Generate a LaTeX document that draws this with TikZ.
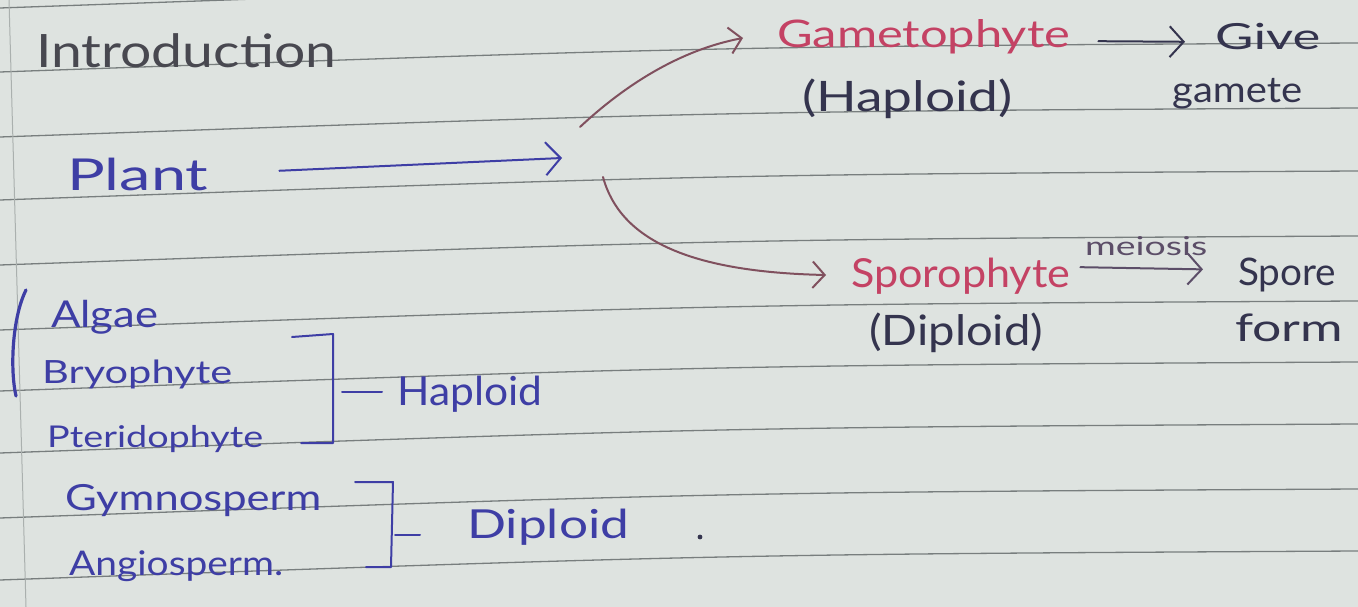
\documentclass[tikz,border=0pt]{standalone}
\usepackage{graphicx}
\usepackage{fontspec}
\setmainfont{Lato}
\usetikzlibrary{arrows.meta}

\definecolor{paper}{RGB}{222,227,224}
\definecolor{ruling}{RGB}{120,126,126}
\definecolor{margin}{RGB}{170,176,174}
\definecolor{pencil}{RGB}{72,72,80}
\definecolor{blueink}{RGB}{62,62,165}
\definecolor{redink}{RGB}{196,66,100}
\definecolor{darkink}{RGB}{52,52,78}
\definecolor{mixink}{RGB}{128,80,94}
\definecolor{meiink}{RGB}{92,78,104}

% word set at a given size (pt) and stretched to a given width (pt)
\newcommand{\fitw}[3]{\resizebox{#1pt}{\height}{\fontsize{#2pt}{#2pt}\selectfont #3}}

\begin{document}
\begin{tikzpicture}[x=1pt,y=-1pt,
  hand/.style={inner sep=0pt, anchor=base west},
  ink/.style={line width=2pt, line cap=round, line join=round},
  barb/.style={-{Straight Barb[length=#1pt, width=2.2*#1pt, line width=2pt]}},
  barb/.default=14]

% notebook page
\fill[paper] (0,0) rectangle (1358,607);
\useasboundingbox (0,0) rectangle (1358,607);
\foreach \L in {8,72,137,200,265,330,391,453,518,580}
  \draw[ruling, line width=1.3pt] (0,\L) .. controls (720,\L-25.5) .. (1358,\L-29);
\draw[margin, line width=1pt] (9,0) -- (26,607);

% title
\node[hand, text=pencil] (intro) at (36,68) {\fitw{300}{46}{Introduction}};

% plant and its two generations
\node[hand, text=blueink] (plant) at (67,190) {\fitw{141}{44}{Plant}};
\node[hand, text=redink]  (gam) at (777,48) {\fitw{293}{38}{Gametophyte}};
\node[hand, text=darkink] (gamhap) at (802,112) {\fitw{210}{42}{(Haploid)}};
\node[hand, text=darkink] (give) at (1215,50) {\fitw{105}{36}{Give}};
\node[hand, text=darkink] (gamete) at (1172,103) {\fitw{130}{36}{gamete}};
\node[hand, text=redink]  (spo) at (851,287) {\fitw{219}{40}{Sporophyte}};
\node[hand, text=meiink]  (mei) at (1085,255) {\fitw{122}{26}{meiosis}};
\node[hand, text=darkink] (spore) at (1238,285) {\fitw{98}{38}{Spore}};
\node[hand, text=darkink] (form) at (1235,341) {\fitw{108}{38}{form}};
\node[hand, text=darkink] (spodip) at (869,345) {\fitw{174}{42}{(Diploid)}};

\coordinate (fork) at (562,158);
\coordinate (forkup) at (580,127);
\coordinate (forkdown) at (603,177);
\path (gam.base west) ++(-34,-10) coordinate (gamtip);
\path (spo.base west) ++(-25,-12) coordinate (spotip);

\draw[ink, blueink, barb=15, shorten <=71pt] (plant.east) -- (fork);
\draw[ink, mixink, barb=12] (forkup) .. controls (625,85) and (680,50) .. (gamtip);
\draw[ink, mixink, barb=12] (forkdown) .. controls (620,240) and (690,272) .. (spotip);
\draw[ink, darkink, barb=14, shorten <=28pt, shorten >=30pt]
  ([yshift=7pt]gam.base east) -- ([yshift=8pt]give.base west);
\draw[ink, meiink, barb=14, shorten <=10pt, shorten >=35pt]
  ([yshift=20pt]spo.base east) -- ([yshift=15pt]spore.base west);

% plant groups
\node[hand, text=blueink] (algae) at (51,327) {\fitw{107}{37}{Algae}};
\node[hand, text=blueink] (bryo) at (42,383) {\fitw{190}{32}{Bryophyte}};
\node[hand, text=blueink] (pter) at (47,447) {\fitw{216}{30}{Pteridophyte}};
\node[hand, text=blueink] (gymno) at (65,510) {\fitw{256}{36}{Gymnosperm}};
\node[hand, text=blueink] (angio) at (69,575) {\fitw{214}{34}{Angiosperm.}};
\node[hand, text=blueink] (haploid) at (397,405) {\fitw{145}{40}{Haploid}};
\node[hand, text=blueink] (diploid) at (467,538) {\fitw{162}{40}{Diploid}};

\draw[blueink, line width=3.2pt, line cap=round] (26,290) .. controls (12,318) and (10,370) .. (16,396);

\draw[ink, blueink] (292,337) -- (333,334) -- (333,443) -- (301,443);
\coordinate (hapbrace) at (333,392);
\draw[ink, blueink, shorten <=9pt, shorten >=15pt] (hapbrace) -- (hapbrace -| haploid.west);

\draw[ink, blueink] (355,482) -- (393,482) -- (391,567) -- (366,567);
\coordinate (dipbrace) at (392,535);
\draw[ink, blueink, shorten <=3pt, shorten >=47pt] (dipbrace) -- (dipbrace -| diploid.west);
\fill[darkink] (700,537) circle (2.4);
\end{tikzpicture}
\end{document}
